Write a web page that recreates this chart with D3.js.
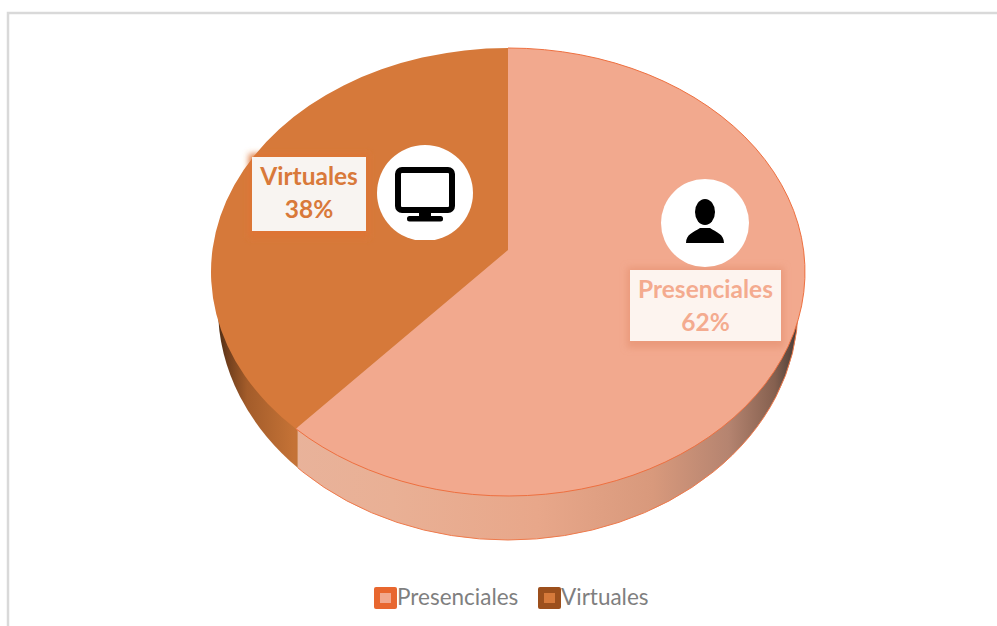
<!DOCTYPE html>
<html>
<head>
<meta charset="utf-8">
<script src="https://cdn.jsdelivr.net/npm/d3@7"></script>
<style>
html, body { margin: 0; padding: 0; background: #fff; }
svg { display: block; font-family: Lato, sans-serif; }
</style>
</head>
<body>
<svg id="chart" width="997" height="626"></svg>
<script>
var categories = ["Presenciales", "Virtuales"];
var values = [62, 38];
var top_colors = ["#f2a98e", "#d6793a"];
var legend_border = ["#e8672f", "#9c4f1c"];

var svg = d3.select("#chart");
var cx = 508, cy = 272, rx = 297, ry = 224;
// the chart is tilted in perspective: the apex sits above the ellipse center,
// the base is a bit narrower and the split moves a little along the rim
var apex_y = 250, perspective_shift = 0.042;
var base_cy = 308, base_rx = 290, base_ry = 232;

// page frame, only top and left show
svg.append("path").attr("d", "M8,626V13H997").attr("fill", "none").attr("stroke", "#d9d9d9").attr("stroke-width", 2.5);

var defs = svg.append("defs");
function add_gradient(id, stops) {
	var g = defs.append("linearGradient").attr("id", id).attr("gradientUnits", "userSpaceOnUse")
	  .attr("x1", cx - base_rx).attr("x2", cx + base_rx).attr("y1", 0).attr("y2", 0);
	stops.forEach(function(s) { g.append("stop").attr("offset", s[0]).attr("stop-color", s[1]); });
}
add_gradient("wall_0", [[0, "#e8b49e"], [0.3, "#e9b095"], [0.55, "#e8a78a"], [0.75, "#d8997c"], [0.88, "#b58470"], [0.96, "#85604f"], [1, "#453a35"]]);
add_gradient("wall_1", [[0, "#4e2c14"], [0.015, "#6e3d1c"], [0.05, "#a35c2a"], [0.13, "#c47236"], [1, "#c47236"]]);
defs.append("filter").attr("id", "soft").append("feGaussianBlur").attr("stdDeviation", 3);

var pie = d3.pie().sort(null)(values);
var split_angle = pie[0].endAngle + perspective_shift;
var slice_angles = [[0, split_angle], [split_angle, Math.PI * 2]];

function edge_point(a) {
	return [cx + rx * Math.sin(a), cy - ry * Math.cos(a)];
}
function rim_path(a0, a1) {
	return "M" + edge_point(a0) + "A" + rx + "," + ry + " 0 " + (a1 - a0 > Math.PI ? 1 : 0) + " 1 " + edge_point(a1);
}
function slice_path(a0, a1) {
	return "M" + cx + "," + apex_y + "L" + edge_point(a0) + rim_path(a0, a1).replace(/^M[^A]*/, "") + "Z";
}

// side wall: the base ellipse cut at the split, the top surface hides the rest
var split_x = edge_point(split_angle)[0] + 2;
var wall_clips = [[split_x, 997 - split_x], [0, split_x]];
wall_clips.forEach(function(c, i) {
	defs.append("clipPath").attr("id", "wall_clip_" + i).append("rect")
	  .attr("x", c[0]).attr("y", 0).attr("width", c[1]).attr("height", 626);
});
svg.append("g").selectAll("ellipse").data(categories).enter().append("ellipse")
  .attr("cx", cx).attr("cy", base_cy).attr("rx", base_rx).attr("ry", base_ry)
  .attr("clip-path", function(d, i) { return "url(#wall_clip_" + i + ")"; })
  .attr("fill", function(d, i) { return "url(#wall_" + i + ")"; })
  .attr("stroke", function(d, i) { return i == 0 ? "#ee7a4c" : "none"; });

svg.append("g").selectAll("path").data(slice_angles).enter().append("path")
  .attr("d", function(d) { return slice_path(d[0], d[1]); })
  .attr("fill", function(d, i) { return top_colors[i]; });
svg.append("path").attr("d", rim_path(slice_angles[0][0], slice_angles[0][1]))
  .attr("fill", "none").attr("stroke", "#ee7040").attr("stroke-width", 1);

// data labels
var label_boxes = [
	{x: 630, y: 270, w: 151, h: 71},
	{x: 252, y: 157, w: 114, h: 74}
];
var label_shadow = ["#ea9a7c", "#de7434"];
var labels = svg.append("g").selectAll("g").data(categories).enter().append("g");
labels.append("rect")
  .attr("x", function(d, i) { return label_boxes[i].x - 3; })
  .attr("y", function(d, i) { return label_boxes[i].y - 3; })
  .attr("width", function(d, i) { return label_boxes[i].w + 6; })
  .attr("height", function(d, i) { return label_boxes[i].h + 10; })
  .attr("fill", function(d, i) { return label_shadow[i]; })
  .attr("filter", "url(#soft)");
labels.append("rect")
  .attr("x", function(d, i) { return label_boxes[i].x; })
  .attr("y", function(d, i) { return label_boxes[i].y; })
  .attr("width", function(d, i) { return label_boxes[i].w; })
  .attr("height", function(d, i) { return label_boxes[i].h; })
  .attr("fill", function(d, i) { return i == 0 ? "#fdf4ef" : "#f8f4f1"; });
labels.append("text")
  .attr("x", function(d, i) { return label_boxes[i].x + label_boxes[i].w / 2; })
  .attr("y", function(d, i) { return label_boxes[i].y + 28; })
  .attr("text-anchor", "middle").attr("font-weight", 700).attr("font-size", 24.5)
  .attr("fill", function(d, i) { return i == 0 ? "#f4ab8f" : "#d9793a"; })
  .text(function(d) { return d; });
labels.append("text")
  .attr("x", function(d, i) { return label_boxes[i].x + label_boxes[i].w / 2; })
  .attr("y", function(d, i) { return label_boxes[i].y + 61; })
  .attr("text-anchor", "middle").attr("font-weight", 700).attr("font-size", 24.5)
  .attr("fill", function(d, i) { return i == 0 ? "#f4ab8f" : "#d9793a"; })
  .text(function(d, i) { return values[i] + "%"; });

// person icon
var person = svg.append("g").attr("transform", "translate(705,223)");
person.append("circle").attr("r", 44).attr("fill", "#fff");
person.append("ellipse").attr("cx", 0).attr("cy", -11).attr("rx", 10).attr("ry", 13).attr("fill", "#000");
person.append("path").attr("fill", "#000")
  .attr("d", "M-19,20C-19,11 -11,9 -5,5L5,5C11,9 19,11 19,20Z");

// monitor icon, its white circle is cut flat at the bottom
defs.append("clipPath").attr("id", "monitor_clip").append("rect").attr("x", -50).attr("y", -50).attr("width", 100).attr("height", 97);
var monitor = svg.append("g").attr("transform", "translate(425,193)");
monitor.append("circle").attr("r", 48).attr("fill", "#fff").attr("clip-path", "url(#monitor_clip)");
monitor.append("rect").attr("x", -27).attr("y", -23).attr("width", 54).attr("height", 40).attr("rx", 4)
  .attr("fill", "#fff").attr("stroke", "#000").attr("stroke-width", 6);
monitor.append("rect").attr("x", -6).attr("y", 19).attr("width", 12).attr("height", 6).attr("fill", "#000");
monitor.append("rect").attr("x", -18).attr("y", 23).attr("width", 36).attr("height", 5.5).attr("rx", 2.5).attr("fill", "#000");

// legend
var legend_x = [374, 538];
var legend = svg.append("g").selectAll("g").data(categories).enter().append("g")
  .attr("transform", function(d, i) { return "translate(" + legend_x[i] + ",587)"; });
legend.append("rect").attr("width", 23).attr("height", 22).attr("rx", 2)
  .attr("fill", function(d, i) { return legend_border[i]; });
legend.append("rect").attr("x", 6).attr("y", 6).attr("width", 11).attr("height", 10)
  .attr("fill", function(d, i) { return top_colors[i]; });
legend.append("text").attr("x", 23).attr("y", 18).attr("font-size", 22.5).attr("fill", "#7f7f7f")
  .text(function(d) { return d; });
</script>
</body>
</html>
